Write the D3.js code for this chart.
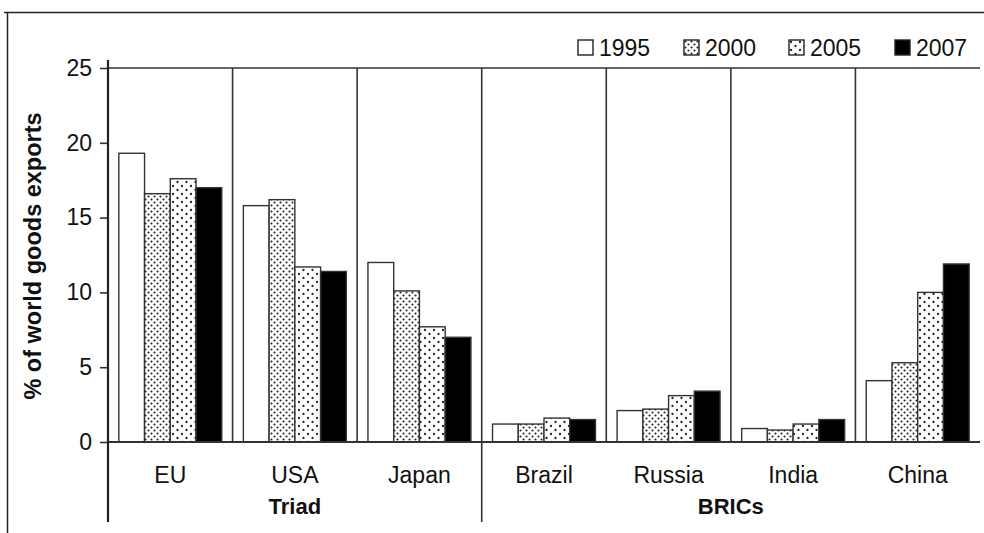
<!DOCTYPE html>
<html>
<head>
<meta charset="utf-8">
<script src="https://cdn.jsdelivr.net/npm/d3@7"></script>
<style>
  body { margin: 0; background: #fff; }
  text { font-family: "Liberation Sans", Arial, sans-serif; fill: #111; }
</style>
</head>
<body>
<div id="root"></div>
<script>
// data
var countries = ["EU", "USA", "Japan", "Brazil", "Russia", "India", "China"];
var years = ["1995", "2000", "2005", "2007"];
var v1995 = [19.3, 15.8, 12.0, 1.2, 2.1, 0.9, 4.1];
var v2000 = [16.6, 16.2, 10.1, 1.2, 2.2, 0.8, 5.3];
var v2005 = [17.6, 11.7, 7.7, 1.6, 3.1, 1.2, 10.0];
var v2007 = [17.0, 11.4, 7.0, 1.5, 3.4, 1.5, 11.9];
var groups = [["Triad", ["EU", "USA", "Japan"]], ["BRICs", ["Brazil", "Russia", "India", "China"]]];
var yTicks = [0, 5, 10, 15, 20, 25];

var W = 984, H = 533;
var plotL = 108, plotR = 980, plotT = 68, plotB = 442;
var svg = d3.select("#root").append("svg")
    .attr("width", W).attr("height", H);

var defs = svg.append("defs");
// dense staggered dots for 2000
var p1 = defs.append("pattern").attr("id", "p2000")
    .attr("patternUnits", "userSpaceOnUse").attr("width", 6).attr("height", 6);
p1.append("rect").attr("width", 6).attr("height", 6).attr("fill", "#fff");
p1.append("circle").attr("cx", 1.5).attr("cy", 1.5).attr("r", 1.05).attr("fill", "#222");
p1.append("circle").attr("cx", 4.5).attr("cy", 4.5).attr("r", 1.05).attr("fill", "#222");
// sparse dots for 2005
var p2 = defs.append("pattern").attr("id", "p2005")
    .attr("patternUnits", "userSpaceOnUse").attr("width", 9).attr("height", 8);
p2.append("rect").attr("width", 9).attr("height", 8).attr("fill", "#fff");
p2.append("circle").attr("cx", 2).attr("cy", 2).attr("r", 1.15).attr("fill", "#222");
p2.append("circle").attr("cx", 6.5).attr("cy", 6).attr("r", 1.15).attr("fill", "#222");

var fills = ["#fff", "url(#p2000)", "url(#p2005)", "#000"];
var series = [v1995, v2000, v2005, v2007];

var x = d3.scaleBand().domain(countries).range([plotL, plotR]);
var xi = d3.scaleBand().domain(years).range([0, x.bandwidth()]).paddingOuter(0.42).paddingInner(0);
var y = d3.scaleLinear().domain([0, 25]).range([plotB, plotT]);

// outer frame
svg.append("path").attr("d", "M4,12.5H984M7.5,12V533")
    .attr("fill", "none").attr("stroke", "#222").attr("stroke-width", 1.5);

// bars
var data = [];
countries.forEach(function (c, i) {
    years.forEach(function (yr, j) {
        data.push({ c: c, yr: yr, j: j, v: series[j][i] });
    });
});
svg.append("g").selectAll("rect").data(data).enter().append("rect")
    .attr("x", function (d) { return x(d.c) + xi(d.yr); })
    .attr("y", function (d) { return y(d.v); })
    .attr("width", xi.bandwidth())
    .attr("height", function (d) { return plotB - y(d.v); })
    .attr("fill", function (d) { return fills[d.j]; })
    .attr("stroke", "#333").attr("stroke-width", 1.4);

// frame lines
var g = svg.append("g").attr("stroke", "#333").attr("stroke-width", 1.6).attr("fill", "none");
g.append("line").attr("x1", plotL).attr("x2", plotR).attr("y1", plotT).attr("y2", plotT);
g.append("line").attr("x1", plotL).attr("x2", plotR).attr("y1", plotB).attr("y2", plotB).attr("stroke-width", 2.2);
countries.slice(1).forEach(function (c) {
    var long = c === "Brazil";
    g.append("line").attr("x1", x(c)).attr("x2", x(c))
        .attr("y1", plotT).attr("y2", long ? 522 : plotB);
});

// y axis
var yAxis = svg.append("g").attr("transform", "translate(" + plotL + ",0)")
    .call(d3.axisLeft(y).tickValues(yTicks).tickSize(8).tickPadding(8));
yAxis.select(".domain").remove();
yAxis.selectAll("line").attr("stroke", "#333").attr("stroke-width", 1.6);
yAxis.selectAll("text").attr("font-size", 23).attr("fill", "#111")
    .style("font-family", "Liberation Sans, Arial, sans-serif");
svg.append("line").attr("x1", plotL).attr("x2", plotL).attr("y1", plotT - 8).attr("y2", 522)
    .attr("stroke", "#222").attr("stroke-width", 2.2);

svg.append("text")
    .attr("transform", "translate(41,256) rotate(-90)")
    .attr("text-anchor", "middle").attr("font-size", 23.5).attr("font-weight", "bold")
    .text("% of world goods exports");

// category labels
svg.append("g").selectAll("text").data(countries).enter().append("text")
    .attr("x", function (d) { return x(d) + x.bandwidth() / 2; })
    .attr("y", 483).attr("text-anchor", "middle").attr("font-size", 23)
    .text(function (d) { return d; });

// group labels
groups.forEach(function (gr) {
    var names = gr[1];
    var x0 = x(names[0]), x1 = x(names[names.length - 1]) + x.bandwidth();
    svg.append("text").attr("x", (x0 + x1) / 2).attr("y", 514)
        .attr("text-anchor", "middle").attr("font-size", 22).attr("font-weight", "bold")
        .text(gr[0]);
});

// legend
var legX = [578, 684, 789, 895];
var leg = svg.append("g").selectAll("g").data(years).enter().append("g")
    .attr("transform", function (d, i) { return "translate(" + legX[i] + ",40)"; });
leg.append("rect").attr("width", 15).attr("height", 15)
    .attr("fill", function (d, i) { return fills[i]; })
    .attr("stroke", "#222").attr("stroke-width", 1.4);
leg.append("text").attr("x", 21).attr("y", 15.5).attr("font-size", 23)
    .text(function (d) { return d; });
</script>
</body>
</html>
